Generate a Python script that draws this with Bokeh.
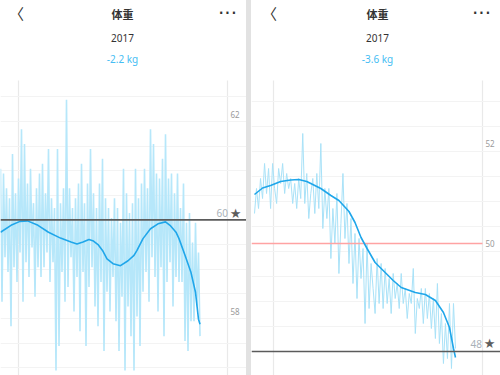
from bokeh.plotting import figure
from bokeh.models import Range1d, LinearAxis, FixedTicker, Grid, Span, Label, Div
from bokeh.layouts import row
from bokeh.embed import file_html
from bokeh.resources import INLINE

# ---------------- data ----------------
title_text = "体重"
year_text = "2017"

left_change = "-2.2 kg"
left_raw = [
    60.9, 58.2, 60.8, 59.1, 60.5, 58.8, 60.3, 57.7, 61.2, 58.9,
    60.4, 58.6, 60.7, 59.2, 61.7, 58.2, 61.4, 59.0, 60.6, 58.7,
    60.9, 59.3, 60.2, 58.3, 60.5, 58.9, 60.8, 58.7, 61.0, 58.9,
    60.4, 59.2, 61.3, 58.6, 60.3, 59.0, 60.1, 56.8, 61.3, 57.3,
    60.2, 58.8, 60.5, 58.2, 62.3, 58.5, 60.5, 59.1, 60.1, 58.0,
    60.3, 58.7, 60.6, 57.6, 61.0, 58.8, 60.2, 57.3, 60.6, 58.5,
    61.3, 58.9, 60.4, 58.1, 60.1, 57.7, 60.6, 58.6, 61.1, 57.2,
    60.3, 58.4, 60.1, 58.0, 59.9, 58.7, 60.3, 57.8, 60.1, 57.2,
    59.8, 58.3, 60.9, 56.8, 60.4, 58.1, 60.0, 57.5, 60.2, 56.8,
    60.9, 57.9, 60.3, 57.3, 60.6, 58.4, 60.9, 58.8, 60.5, 58.2,
    61.7, 59.1, 61.4, 58.7, 60.8, 58.0, 60.7, 58.9, 61.1, 57.5,
    61.6, 58.6, 60.7, 59.0, 60.8, 58.1, 60.4, 58.7, 60.8, 58.6,
    60.1, 58.6, 60.6, 57.4, 59.8, 57.2, 60.0, 57.8, 59.4, 57.8,
    59.8, 58.1, 59.2, 57.5,
]
left_smooth_x = [0, 7, 13, 18, 25, 32, 40, 47, 51, 55, 59, 62, 65, 68, 71, 75,
                 80, 85, 89, 91, 95, 100, 105, 110, 113, 117, 119, 123, 127, 130, 132, 133]
left_smooth_y = [59.61, 59.75, 59.83, 59.84, 59.75, 59.61, 59.49, 59.41, 59.37, 59.41,
                 59.46, 59.43, 59.36, 59.24, 59.07, 58.97, 58.93, 59.03, 59.14, 59.24,
                 59.48, 59.68, 59.78, 59.82, 59.75, 59.61, 59.48, 59.14, 58.79, 58.39,
                 57.84, 57.74]
left_ticks = [58, 62]
left_target_tick = [60]
left_target = 59.86

right_change = "-3.6 kg"
right_raw = [
    50.6, 51.1, 50.7, 51.3, 50.9, 51.6, 51.0, 51.5, 50.7, 51.6,
    51.1, 50.8, 51.5, 51.2, 51.6, 51.0, 51.4, 51.1, 51.3, 50.8,
    51.2, 50.7, 51.3, 50.9, 52.2, 50.8, 51.4, 50.5, 51.0, 51.3,
    50.6, 51.4, 50.7, 52.0, 50.3, 51.1, 50.5, 51.1, 49.7, 50.7,
    50.0, 51.0, 49.4, 50.4, 51.4, 50.1, 50.8, 49.6, 50.5, 49.2,
    50.2, 48.9, 50.1, 49.3, 49.9, 48.4, 50.0, 48.7, 49.6, 49.1,
    48.6, 49.7, 48.8, 49.6, 48.7, 49.5, 48.8, 49.3, 48.6, 49.4,
    48.9, 49.2, 48.7, 49.4, 48.8, 49.1, 48.5, 49.0, 48.8, 49.5,
    48.2, 48.9, 48.7, 49.1, 48.4, 49.1, 48.5, 49.0, 48.3, 48.9,
    48.1, 49.2, 48.0, 48.6, 47.6, 48.4, 47.7, 48.8, 47.5, 48.8,
    47.9,
]
right_smooth_x = [0, 4, 8, 13, 18, 22, 26, 28, 33, 38, 42, 47, 50, 53, 56, 60,
                  65, 69, 73, 80, 85, 90, 94, 97, 99, 100]
right_smooth_y = [50.98, 51.11, 51.16, 51.24, 51.27, 51.28, 51.24, 51.20, 51.10, 50.96,
                  50.86, 50.64, 50.42, 50.12, 49.90, 49.62, 49.42, 49.26, 49.12, 49.02,
                  48.98, 48.86, 48.62, 48.32, 47.90, 47.72]
right_ticks = [50, 52]
right_target_tick = [48]
right_target = 47.84
right_limit = 50.0

# ---------------- styling / layout ----------------
FIG_H = 375
CHART_TOP = 80          # top of the chart area (px), header above
SMOOTH_COLOR = "#1fa6ea"
CHANGE_COLOR = "#45bdf3"
DARK = "#333333"


def make_panel(raw, sx, sy, change, ticks, target_tick, target, *,
               px0, step, kg_ref, py_ref, ppk, left, width, raw_width, raw_color,
               grid_px, target_label_px, limit=None, header_cx=0, chev_px=0, dots_px=0):
    # picture px <-> data
    def ix(px):
        return (px - px0) / step

    def ky(py):
        return kg_ref + (py_ref - py) / ppk

    p = figure(width=width, height=FIG_H, title=None, x_axis_type=None, y_axis_type=None,
               toolbar_location=None, output_backend="svg",
               x_range=Range1d(ix(left), ix(left + width)),
               y_range=Range1d(ky(FIG_H), ky(0)),
               min_border=0, min_border_top=0, min_border_left=0,
               min_border_right=0, min_border_bottom=0)
    p.outline_line_color = None
    p.background_fill_color = "white"
    p.border_fill_color = "white"

    chart_top = ky(CHART_TOP)
    xg = Grid(dimension=0, ticker=FixedTicker(ticks=[ix(g) for g in grid_px]),
              grid_line_color="#e9e9e9", grid_line_width=1.2)
    if "cross_bounds" in Grid.properties():
        xg.cross_bounds = (ky(FIG_H), chart_top)
        p.add_layout(xg)
    else:
        p.segment(x0=[ix(g) for g in grid_px], y0=[ky(FIG_H)] * len(grid_px),
                  x1=[ix(g) for g in grid_px], y1=[chart_top] * len(grid_px),
                  line_color="#e9e9e9", line_width=1.2)
    grid_vals = [target + 0.5 * k for k in range(-16, 16) if target + 0.5 * k <= chart_top]
    yg = Grid(dimension=1, ticker=FixedTicker(ticks=grid_vals),
              grid_line_color="#f3f3f3", grid_line_width=1)
    p.add_layout(yg)

    p.line(list(range(len(raw))), raw, line_color=raw_color, line_width=raw_width)
    if limit is not None:
        p.segment(x0=[ix(left)], y0=[limit], x1=[ix(grid_px[1])], y1=[limit],
                  line_color="#ffa3a3", line_width=1.5)
    p.line(sx, sy, line_color=SMOOTH_COLOR, line_width=1.6)

    p.add_layout(Span(location=target, dimension="width", line_color="#5b5b5b", line_width=1.6))

    ax = LinearAxis(fixed_location=ix(grid_px[1]), ticker=FixedTicker(ticks=ticks),
                    axis_line_color=None, major_tick_line_color=None, minor_tick_line_color=None,
                    major_tick_in=0, major_tick_out=0,
                    major_label_text_font="Noto Sans", major_label_text_font_size="8px",
                    major_label_text_color="#9a9a9a", major_label_standoff=3)
    p.add_layout(ax, "right")
    tax = LinearAxis(fixed_location=ix(target_label_px), ticker=FixedTicker(ticks=target_tick),
                     axis_line_color=None, major_tick_line_color=None, minor_tick_line_color=None,
                     major_tick_in=0, major_tick_out=0,
                     major_label_text_font="Noto Sans", major_label_text_font_size="10px",
                     major_label_text_color="#a9b1b8", major_label_standoff=3)
    p.add_layout(tax, "right")

    p.add_layout(Label(x=ix(target_label_px + 22), y=target_tick[0], text="★",
                       text_align="center", text_baseline="middle",
                       text_font="DejaVu Sans", text_font_size="13px", text_color="#5e5e5e"))

    p.add_layout(Label(x=ix(header_cx), y=ky(13), text=title_text, text_align="center",
                       text_baseline="middle", text_font="Noto Sans CJK SC",
                       text_font_size="11px", text_font_style="bold", text_color=DARK))
    p.add_layout(Label(x=ix(header_cx), y=ky(37), text=year_text, text_align="center",
                       text_baseline="middle", text_font="Noto Sans",
                       text_font_size="10px", text_color=DARK))
    p.add_layout(Label(x=ix(header_cx), y=ky(58), text=change, text_align="center",
                       text_baseline="middle", text_font="Noto Sans",
                       text_font_size="10px", text_color=CHANGE_COLOR))
    p.add_layout(Label(x=ix(chev_px - 3), y=ky(13), text="〈", text_align="center",
                       text_baseline="middle", text_font="Noto Sans CJK SC",
                       text_font_size="15px", text_color=DARK))
    p.add_layout(Label(x=ix(dots_px), y=ky(12), text="···", text_align="center",
                       text_baseline="middle", text_font="DejaVu Sans",
                       text_font_size="20px", text_color=DARK))
    return p


left_p = make_panel(left_raw, left_smooth_x, left_smooth_y, left_change,
                    left_ticks, left_target_tick, left_target,
                    px0=0, step=1.5, kg_ref=60, py_ref=212.5, ppk=49.25,
                    left=0, width=246, raw_width=1.6, raw_color="#b6e7fa",
                    grid_px=[18, 227], target_label_px=213,
                    header_cx=122, chev_px=19, dots_px=227)

r_step = (455 - 254) / (len(right_raw) - 1)
right_p = make_panel(right_raw, right_smooth_x, right_smooth_y, right_change,
                     right_ticks, right_target_tick, right_target,
                     px0=254, step=r_step, kg_ref=48, py_ref=343, ppk=50,
                     left=251, width=249, raw_width=1, raw_color="#a9e2f8",
                     grid_px=[273, 482], target_label_px=467,
                     limit=right_limit, header_cx=377, chev_px=272, dots_px=481)

sep = Div(width=5, height=FIG_H, margin=0, styles={"background-color": "#e2e2e2"})

layout = row(left_p, sep, right_p)
open("out.html", "w").write(file_html(layout, INLINE))
